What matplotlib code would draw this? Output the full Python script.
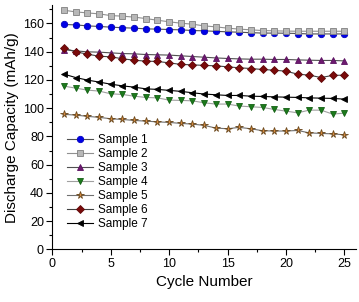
import matplotlib
matplotlib.use("Agg")
import matplotlib.pyplot as plt
from matplotlib.ticker import MultipleLocator

plt.rcParams['font.family'] = ['Liberation Sans', 'DejaVu Sans']

cycles = list(range(1, 26))
s1 = [159.3, 159.0, 158.3, 157.9, 157.4, 157.0, 156.7, 156.2, 156.0, 155.7, 155.5, 155.0, 154.8,
      154.4, 154.1, 153.8, 153.5, 153.2, 153.2, 153.1, 152.9, 152.6, 152.6, 152.6, 152.6]
s2 = [169.4, 168.2, 167.5, 166.8, 165.6, 165.2, 164.5, 163.5, 162.3, 161.2, 160.2, 159.5, 158.3,
      157.6, 156.7, 156.0, 155.5, 155.0, 154.8, 154.6, 154.5, 154.5, 154.5, 154.5, 154.5]
s3 = [141.5, 140.6, 139.9, 139.7, 139.2, 138.7, 138.5, 138.0, 137.8, 137.6, 137.1, 136.6, 136.1,
      135.6, 135.2, 134.9, 134.7, 134.7, 134.5, 134.5, 134.2, 134.0, 133.8, 133.8, 133.5]
s4 = [115.6, 114.2, 112.8, 112.1, 110.2, 109.7, 108.5, 107.6, 107.3, 105.7, 105.5, 105.2, 103.8,
      102.9, 102.9, 101.5, 101.0, 100.5, 99.1, 97.9, 96.7, 98.6, 98.6, 95.8, 96.5]
s5 = [95.6, 95.1, 94.2, 93.5, 92.5, 92.0, 91.3, 90.8, 90.3, 89.9, 89.2, 88.7, 87.8,
      85.9, 85.4, 86.4, 85.4, 84.0, 83.8, 83.8, 84.2, 82.5, 82.1, 81.8, 81.1]
s6 = [142.4, 139.9, 138.3, 136.8, 136.4, 135.0, 134.0, 133.3, 133.1, 132.1, 131.0, 130.7, 130.3,
      130.0, 129.3, 128.6, 128.1, 127.4, 126.9, 126.2, 124.1, 123.4, 121.7, 123.2, 123.4]
s7 = [124.1, 121.7, 119.9, 118.5, 117.0, 115.8, 114.9, 113.7, 113.3, 112.6, 111.9, 110.9, 110.0,
      109.5, 109.0, 109.0, 108.5, 108.3, 108.0, 107.8, 107.6, 107.3, 107.1, 106.9, 106.4]
labels = ["Sample 1", "Sample 2", "Sample 3", "Sample 4", "Sample 5", "Sample 6", "Sample 7"]

styles = [
    dict(marker='o', mfc='#0000e6', mec='#0000c0', color='#505050', ms=4.6),
    dict(marker='s', mfc='#b8b8b8', mec='#808080', color='#909090', ms=4.2),
    dict(marker='^', mfc='#6e1a70', mec='#5a1060', color='#505050', ms=4.8),
    dict(marker='v', mfc='#1c7a1c', mec='#126012', color='#a0a0a0', ms=4.8),
    dict(marker='*', mfc='#d9893a', mec='#6b4a20', color='#707070', ms=5.5),
    dict(marker='D', mfc='#7a0a0a', mec='#600808', color='#404040', ms=3.9),
    dict(marker='<', mfc='#000000', mec='#000000', color='#000000', ms=4.8),
]

fig = plt.figure(figsize=(3.59, 3.02), dpi=100)
ax = fig.add_axes([0.1457, 0.1745, 0.846, 0.8085])

for ys, lab, st in zip([s1, s2, s3, s4, s5, s6, s7], labels, styles):
    ax.plot(cycles, ys, linestyle='-', lw=0.8, label=lab, mew=0.6, **st)

ax.set_xlim(0, 26)
ax.set_ylim(0, 173)
ax.xaxis.set_major_locator(MultipleLocator(5))
ax.xaxis.set_minor_locator(MultipleLocator(2.5))
ax.yaxis.set_major_locator(MultipleLocator(20))
ax.yaxis.set_minor_locator(MultipleLocator(10))
ax.tick_params(which='major', direction='out', length=4, width=0.8, labelsize=9, pad=2)
ax.tick_params(which='minor', direction='out', length=2.5, width=0.8)
for side in ['top', 'right']:
    ax.spines[side].set_visible(False)

ax.set_xlabel("Cycle Number", fontsize=11, labelpad=4)
ax.set_ylabel("Discharge Capacity (mAh/g)", fontsize=11, labelpad=3)

ax.legend(loc='upper left', bbox_to_anchor=(0.033, 0.49), frameon=False, fontsize=8.5,
          handlelength=2.2, handletextpad=0.4, labelspacing=0.17, borderaxespad=0)

fig.savefig("out.png", dpi=100)
